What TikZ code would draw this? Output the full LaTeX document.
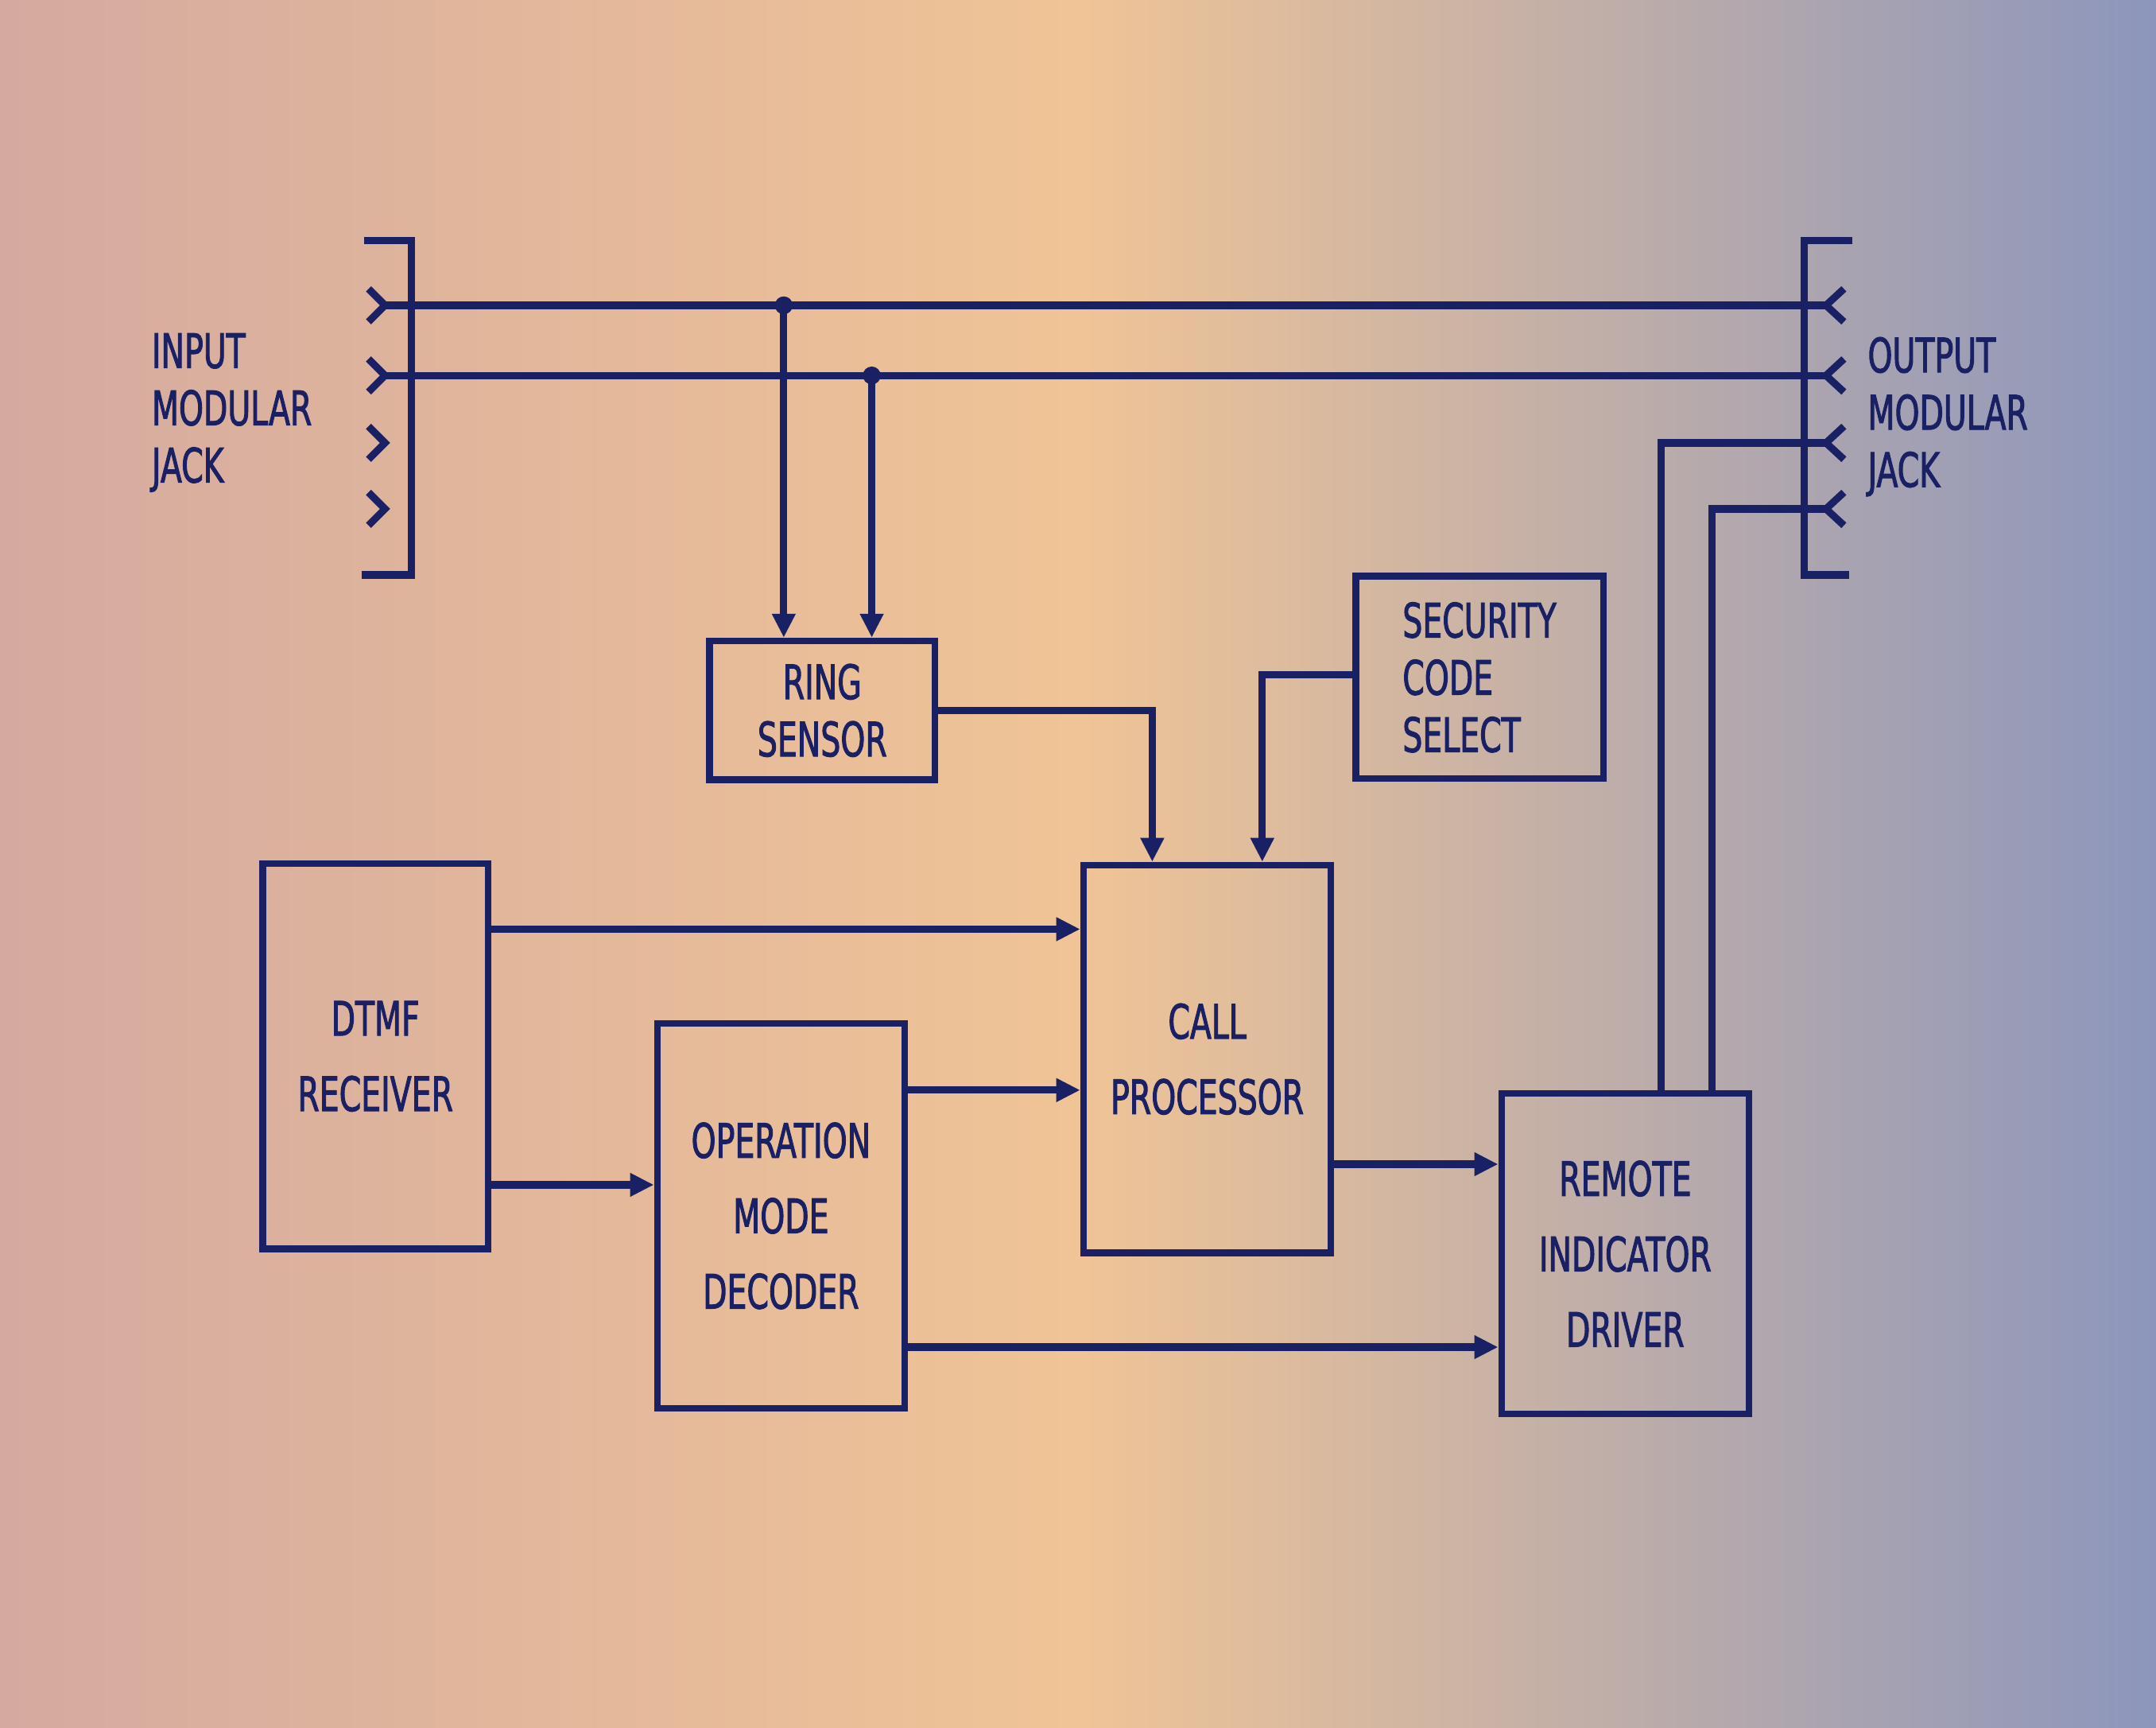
\documentclass[tikz,border=0pt]{standalone}
\usepackage{fontspec}
\setmainfont{DejaVu Sans}[FakeStretch=0.66, FakeBold=1.6]
\usetikzlibrary{arrows.meta,calc,positioning}
\newlength\pxl
\setlength\pxl{0.017296cm}
\definecolor{ink}{RGB}{26,32,100}
\definecolor{bgleft}{RGB}{212,170,160}
\definecolor{bgmid}{RGB}{240,196,150}
\definecolor{bgright}{RGB}{140,150,188}
\tikzset{
     box node/.style={draw=ink, line width=2.4pt, text=ink, inner sep=0pt, align=center,
       font=\fontsize{17}{27}\selectfont},
     small box/.style={font=\fontsize{17}{20.5}\selectfont},
     box size/.style args={#1 by #2}{minimum width=#1\pxl, minimum height=#2\pxl},
     jack label/.style={text=ink, anchor=west, align=left, inner sep=0pt,
       font=\fontsize{17}{20.5}\selectfont},
     wire/.style = {ink, line width=2.6pt},
     sigedge/.style = {ink, line width=2.6pt, -{Triangle[length=0.3cm,width=0.28cm]}},
    }

\begin{document}
\begin{tikzpicture}[x=0.017296cm, y=-0.017296cm]
    \shade[left color=bgleft, right color=bgright, middle color=bgmid] (0,0) rectangle (1568,1256);

    % jacks
    \draw[wire] (265,175) -- (299,175) -- (299,418) -- (263,418);
    \draw[wire] (1347,175) -- (1312,175) -- (1312,418) -- (1345,418);
    \foreach \y [count=\i] in {222,273,322,370} {
        \coordinate (in\i) at (280,\y);
        \coordinate (out\i) at (1328,\y);
        \draw[wire] (268,\y-12) -- (in\i) -- (268,\y+12);
        \draw[wire] (1341,\y-12) -- (out\i) -- (1341,\y+12);
    }
    \node[jack label] (injack) at (110,300) {INPUT\\MODULAR\\JACK};
    \node[jack label] (outjack) at (1358,303) {OUTPUT\\MODULAR\\JACK};

    % blocks
    \node[box node, small box, box size=164 by 101] (ring) at (598,516.5) {RING\\SENSOR};
    \node[box node, small box, box size=180 by 147, align=left] (security) at (1076,492.5) {SECURITY\\CODE\\SELECT};
    \node[box node, box size=180 by 282] (call) at (878,770) {CALL\\PROCESSOR};
    \node[box node, box size=164 by 280] (dtmf) at (273,768) {DTMF\\RECEIVER};
    \node[box node, box size=180 by 280] (opmode) at (568,884) {OPERATION\\MODE\\DECODER};
    \node[box node, box size=180 by 233] (remote) at (1182,911.5) {REMOTE\\INDICATOR\\DRIVER};

    % line taps
    \coordinate (tap1) at (570,222);
    \coordinate (tap2) at (634,273);
    \draw[wire] (in1) -- (out1);
    \draw[wire] (in2) -- (out2);
    \fill[ink] (tap1) circle (6.5\pxl);
    \fill[ink] (tap2) circle (6.5\pxl);
    \draw[sigedge] (tap1) -- (tap1 |- ring.north);
    \draw[sigedge] (tap2) -- (tap2 |- ring.north);

    % signals
    \draw[sigedge] (ring.east) -| ([xshift=-40\pxl]call.north);
    \draw[sigedge] ([yshift=2\pxl]security.west) -| ([xshift=40\pxl]call.north);
    \draw[sigedge] ([yshift=-50\pxl]dtmf.north east) -- ([yshift=-50\pxl]dtmf.north east -| call.west);
    \draw[sigedge] ([yshift=49\pxl]dtmf.south east) -- ([yshift=49\pxl]dtmf.south east -| opmode.west);
    \draw[sigedge] ([yshift=-51\pxl]opmode.north east) -- ([yshift=-51\pxl]opmode.north east -| call.west);
    \draw[sigedge] ([yshift=47\pxl]opmode.south east) -- ([yshift=47\pxl]opmode.south east -| remote.west);
    \draw[sigedge] ([yshift=67\pxl]call.south east) -- ([yshift=67\pxl]call.south east -| remote.west);
    \draw[wire] ([xshift=26\pxl]remote.north) |- (out3);
    \draw[wire] ([xshift=63\pxl]remote.north) |- (out4);
\end{tikzpicture}
\end{document}
